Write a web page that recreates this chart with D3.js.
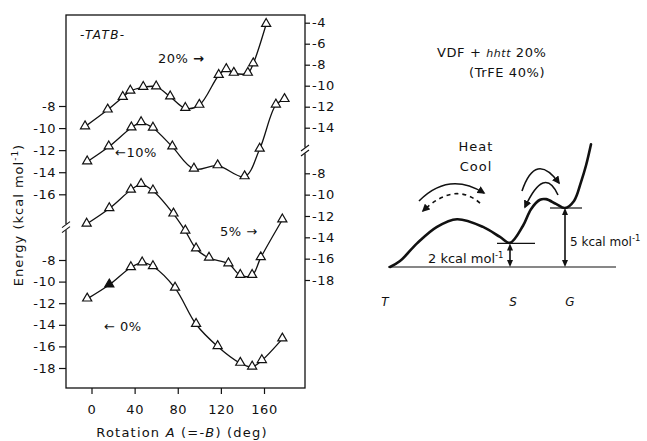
<!DOCTYPE html>
<html>
<head>
<meta charset="utf-8">
<script src="https://cdn.jsdelivr.net/npm/d3@7"></script>
<style>
  body { margin: 0; background: #fff; }
  text { font-family: "DejaVu Sans", sans-serif; fill: #111; }
</style>
</head>
<body>
<svg id="fig" width="647" height="441"></svg>
<script>
// ---- left panel: rotation A (deg) vs energy (kcal/mol) ----
var deg20 = [-6, 15, 29, 36, 48, 60, 73, 87, 100, 118, 125, 132, 145, 150, 162];
var e20 = [-13.9, -12.3, -11.1, -10.5, -10.15, -10.1, -11.05, -12.15, -11.85, -9.0, -8.45, -8.8, -8.8, -7.9, -4.15];
var deg10 = [-4, 16, 37, 46, 57, 75, 95, 117, 142, 156, 171, 179];
var e10 = [-13.05, -11.7, -9.97, -9.5, -9.99, -11.7, -13.7, -13.4, -14.4, -11.9, -7.9, -7.4];
var deg5 = [-4.5, 16.5, 36.5, 46, 57, 76, 87, 97, 109, 127, 138, 149, 157, 177];
var e5 = [-12.75, -11.3, -9.57, -9.03, -9.63, -11.8, -13.4, -15.07, -15.94, -16.47, -17.56, -17.56, -15.9, -12.35];
var deg0 = [-4, 16.5, 36.5, 47, 57, 77.5, 97, 117, 138, 149, 158, 177];
var e0 = [-11.6, -10.3, -8.7, -8.25, -8.6, -10.6, -13.95, -16.0, -17.55, -17.9, -17.3, -15.3];

var xTicks = [0, 40, 80, 120, 160];
var leftUpTicks = [-8, -10, -12, -14, -16];
var leftLowTicks = [-8, -10, -12, -14, -16, -18];
var rightUpTicks = [-4, -6, -8, -10, -12, -14];
var rightLowTicks = [-8, -10, -12, -14, -16, -18];

// ---- right panel: schematic energy profile (reaction coord, kcal/mol) ----
var schemX = [0, 10, 27, 47, 67, 93, 110, 120, 133, 141, 150, 156, 166, 175, 184, 191, 196, 201];
var schemE = [0, 0.5, 2.0, 3.4, 4.05, 3.4, 2.55, 2.05, 3.5, 4.9, 5.7, 5.75, 5.35, 5.0, 5.6, 7.2, 8.6, 10.4];
var levelS = 2, levelG = 5;
var posT = -5, posS = 120, posG = 175;

var svg = d3.select("#fig");
var L = 66, R = 305, T = 15, B = 388;

var x = d3.scaleLinear().domain([0, 160]).range([91.5, 264]);
var yLU = d3.scaleLinear().domain([-8, -16]).range([106, 194.3]);
var yLL = d3.scaleLinear().domain([-8, -18]).range([260, 368]);
var yRU = d3.scaleLinear().domain([-4, -14]).range([22.7, 127.7]);
var yRL = d3.scaleLinear().domain([-8, -18]).range([173.3, 280]);

// frame
svg.append("rect").attr("x", L).attr("y", T).attr("width", R - L).attr("height", B - T)
  .attr("fill", "none").attr("stroke", "#111").attr("stroke-width", 1.3);

function styleAxis(g) {
  g.select(".domain").remove();
  g.selectAll("line").attr("stroke", "#111").attr("stroke-width", 1.2);
  g.selectAll("text").style("font-size", "13px").style("letter-spacing", "0.5px")
    .style("font-family", "DejaVu Sans, sans-serif").attr("fill", "#111");
}
function fmt(d) { return d < 0 ? "-" + Math.abs(d) : d; }

svg.append("g").attr("transform", "translate(" + L + ",0)")
  .call(d3.axisLeft(yLU).tickValues(leftUpTicks).tickSize(7).tickPadding(3).tickFormat(fmt)).call(styleAxis);
svg.append("g").attr("transform", "translate(" + L + ",0)")
  .call(d3.axisLeft(yLL).tickValues(leftLowTicks).tickSize(7).tickPadding(3).tickFormat(fmt)).call(styleAxis);
svg.append("g").attr("transform", "translate(" + R + ",0)")
  .call(d3.axisRight(yRU).tickValues(rightUpTicks).tickSize(5).tickPadding(2).tickFormat(fmt)).call(styleAxis);
svg.append("g").attr("transform", "translate(" + R + ",0)")
  .call(d3.axisRight(yRL).tickValues(rightLowTicks).tickSize(5).tickPadding(2).tickFormat(fmt)).call(styleAxis);
svg.append("g").attr("transform", "translate(0," + B + ")")
  .call(d3.axisBottom(x).tickValues(xTicks).tickSize(6).tickPadding(11)).call(styleAxis);

// axis breaks
function axisBreak(xp, yp) {
  svg.append("rect").attr("x", xp - 2).attr("y", yp - 3).attr("width", 4).attr("height", 6).attr("fill", "#fff");
  [-2.5, 2.5].forEach(function (o) {
    svg.append("line").attr("x1", xp - 4).attr("y1", yp + o + 3).attr("x2", xp + 4).attr("y2", yp + o - 3)
      .attr("stroke", "#111").attr("stroke-width", 1.1);
  });
}
axisBreak(L, (yLU(-16) + yLL(-8)) / 2);
axisBreak(R, (yRU(-14) + yRL(-8)) / 2);

// series
var line = d3.line().curve(d3.curveCatmullRom.alpha(0.5));
var tri = d3.symbol().type(d3.symbolTriangle).size(36);
var series = [
  { d: deg20, e: e20, y: yRU, filled: -1 },
  { d: deg10, e: e10, y: yLU, filled: -1 },
  { d: deg5, e: e5, y: yRL, filled: -1 },
  { d: deg0, e: e0, y: yLL, filled: 1 }
];
series.forEach(function (s) {
  var pts = s.d.map(function (v, i) { return [x(v), s.y(s.e[i])]; });
  svg.append("path").attr("d", line(pts)).attr("fill", "none").attr("stroke", "#111").attr("stroke-width", 1.3);
  svg.selectAll(null).data(pts).enter().append("path")
    .attr("d", tri)
    .attr("transform", function (p) { return "translate(" + p[0] + "," + (p[1] - 0.5) + ")"; })
    .attr("fill", function (p, i) { return i === s.filled ? "#111" : "#fff"; })
    .attr("stroke", "#111").attr("stroke-width", 1.2);
});

// labels in the left panel
svg.append("text").attr("x", 80).attr("y", 39).style("font-size", "12px").style("font-style", "italic")
  .style("letter-spacing", "1.5px").text("-TATB-");
var t20 = svg.append("text").attr("x", 158).attr("y", 63).style("font-size", "13px").style("letter-spacing", "0.5px");
t20.append("tspan").text("20% ");
t20.append("tspan").style("font-weight", "bold").text("\u2192");
var t10 = svg.append("text").attr("x", 115).attr("y", 157).style("font-size", "13px").style("letter-spacing", "0.5px");
t10.append("tspan").text("\u219010%");
svg.append("text").attr("x", 220).attr("y", 236).style("font-size", "13px").style("letter-spacing", "0.5px").text("5% \u2192");
svg.append("text").attr("x", 104).attr("y", 331).style("font-size", "13px").style("letter-spacing", "0.5px").text("\u2190 0%");

// axis titles
var xt = svg.append("text").attr("x", 182).attr("y", 437).attr("text-anchor", "middle")
  .style("font-size", "13px").style("letter-spacing", "1.2px");
xt.append("tspan").text("Rotation ");
xt.append("tspan").style("font-style", "italic").text("A");
xt.append("tspan").text(" (=-");
xt.append("tspan").style("font-style", "italic").text("B");
xt.append("tspan").text(") (deg)");

var yt = svg.append("text").attr("transform", "translate(23,215) rotate(-90)").attr("text-anchor", "middle")
  .style("font-size", "13px").style("letter-spacing", "1px");
yt.append("tspan").text("Energy (kcal mol");
yt.append("tspan").attr("dy", -5).style("font-size", "9px").text("-1");
yt.append("tspan").attr("dy", 5).text(")");

// ---- right panel ----
var ex = d3.scaleLinear().domain([0, 200]).range([390, 590]);
var ey = d3.scaleLinear().domain([0, 5]).range([267, 208]);

svg.append("defs").append("marker").attr("id", "ah").attr("viewBox", "0 0 10 10")
  .attr("refX", 8).attr("refY", 5).attr("markerWidth", 8).attr("markerHeight", 8)
  .attr("markerUnits", "userSpaceOnUse").attr("orient", "auto")
  .append("path").attr("d", "M0,0 L10,5 L0,10 Z").attr("fill", "#111");

var prof = d3.line().curve(d3.curveCatmullRom.alpha(0.5));
svg.append("path").attr("d", prof(schemX.map(function (v, i) { return [ex(v), ey(schemE[i])]; })))
  .attr("fill", "none").attr("stroke", "#111").attr("stroke-width", 2.6).attr("stroke-linecap", "round");

// reference levels
function hline(u0, u1, e, w) {
  svg.append("line").attr("x1", ex(u0)).attr("x2", ex(u1)).attr("y1", ey(e)).attr("y2", ey(e))
    .attr("stroke", "#111").attr("stroke-width", w);
}
hline(-2, 226, 0, 1.2);
hline(posS - 13, posS + 25, levelS, 1.2);
hline(posG - 15, posG + 17, levelG, 1.2);

function dbl(u, e) {
  svg.append("line").attr("x1", ex(u)).attr("x2", ex(u)).attr("y1", ey(0) - 6).attr("y2", ey(e) + 6)
    .attr("stroke", "#111").attr("stroke-width", 1.6);
  [[ey(0), 1], [ey(e), -1]].forEach(function (a) {
    svg.append("path").attr("d", "M" + (ex(u) - 3) + "," + (a[0] - 7 * a[1]) + " L" + ex(u) + "," + a[0] +
      " L" + (ex(u) + 3) + "," + (a[0] - 7 * a[1]) + " Z").attr("fill", "#111");
  });
}
dbl(posS, levelS);
dbl(posG, levelG);

// curved transition arrows: [start, peak, end] in schematic units
var arcs = [
  { p: [[29, 5.59], [60, 7.03], [94, 6.27]], dash: null },
  { p: [[90, 5.42], [63, 6.19], [33, 4.75]], dash: "4,4" },
  { p: [[132, 6.44], [148, 8.31], [169, 7.12]], dash: null },
  { p: [[168, 6.1], [153, 7.12], [135, 5.08]], dash: null }
];
arcs.forEach(function (a) {
  var s = [ex(a.p[0][0]), ey(a.p[0][1])], m = [ex(a.p[1][0]), ey(a.p[1][1])], e = [ex(a.p[2][0]), ey(a.p[2][1])];
  var c = [2 * m[0] - (s[0] + e[0]) / 2, 2 * m[1] - (s[1] + e[1]) / 2];
  var p = d3.path(); p.moveTo(s[0], s[1]); p.quadraticCurveTo(c[0], c[1], e[0], e[1]);
  svg.append("path").attr("d", p.toString()).attr("fill", "none").attr("stroke", "#111")
    .attr("stroke-width", 1.6).attr("stroke-dasharray", a.dash).attr("marker-end", "url(#ah)");
});

// texts
var h1 = svg.append("text").attr("x", 437).attr("y", 57).style("font-size", "13px").style("letter-spacing", "0.6px");
h1.append("tspan").text("VDF + ");
h1.append("tspan").style("font-style", "italic").style("font-size", "11px").text("hhtt");
h1.append("tspan").text(" 20%");
svg.append("text").attr("x", 469).attr("y", 77).style("font-size", "13px").style("letter-spacing", "0.6px").text("(TrFE 40%)");
svg.append("text").attr("x", 476).attr("y", 151).attr("text-anchor", "middle").style("font-size", "13px").style("letter-spacing", "1px").text("Heat");
svg.append("text").attr("x", 476).attr("y", 171).attr("text-anchor", "middle").style("font-size", "13px").style("letter-spacing", "1px").text("Cool");

function kcal(xp, yp, n, fs) {
  var t = svg.append("text").attr("x", xp).attr("y", yp).style("font-size", fs + "px");
  t.append("tspan").text(n + " kcal mol");
  t.append("tspan").attr("dy", -5).style("font-size", "8.5px").text("-1");
}
kcal(428, 263, 2, 13);
kcal(570, 246, 5, 12);

[["T", posT], ["S", posS + 3], ["G", posG + 5]].forEach(function (d) {
  svg.append("text").attr("x", ex(d[1])).attr("y", 306).attr("text-anchor", "middle")
    .style("font-size", "12px").style("font-style", "italic").text(d[0]);
});
</script>
</body>
</html>
